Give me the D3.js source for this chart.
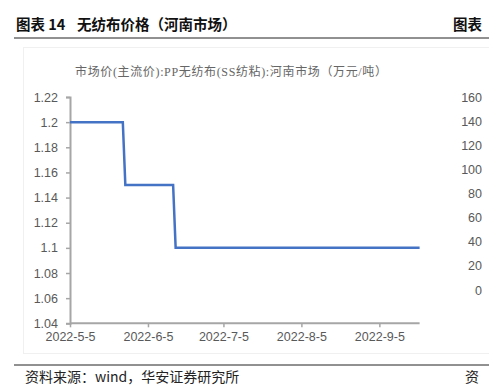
<!DOCTYPE html>
<html><head><meta charset="utf-8">
<script src="https://cdn.jsdelivr.net/npm/d3@7"></script>
<style>
html,body{margin:0;padding:0;background:#fff;overflow:hidden;}
svg{display:block;}
</style></head>
<body>
<svg id="chart" width="489" height="387"></svg>
<script>
// ---- data ----
const dates = ["2022-05-05","2022-05-26","2022-05-27","2022-06-15","2022-06-16","2022-09-21"];
const prices = [1.2, 1.2, 1.15, 1.15, 1.1, 1.1];
const leftTicks = [1.04,1.06,1.08,1.1,1.12,1.14,1.16,1.18,1.2,1.22];
const rightTicks = [0,20,40,60,80,100,120,140,160];
const xTickDates = ["2022-05-05","2022-06-05","2022-07-05","2022-08-05","2022-09-05"];
const titleText = "无纺布价格（河南市场）";
const subtitle = "市场价(主流价):PP无纺布(SS纺粘):河南市场（万元/吨）";
const source = "资料来源：wind，华安证券研究所";

const parse = d3.timeParse("%Y-%m-%d");
const fmt = d => `${d.getFullYear()}-${d.getMonth()+1}-${d.getDate()}`;
const svg = d3.select("#chart");
const cjk = "'Noto Sans CJK SC', sans-serif";

// header
svg.append("text").attr("x",16).attr("y",30).attr("font-family",cjk).attr("font-weight","bold")
  .attr("font-size",14.5).attr("fill","#111").text("图表 14");
svg.append("text").attr("x",77).attr("y",30).attr("font-family",cjk).attr("font-weight","bold")
  .attr("font-size",14.5).attr("fill","#111").text(titleText);
svg.append("text").attr("x",453).attr("y",30).attr("font-family",cjk).attr("font-weight","bold")
  .attr("font-size",14.5).attr("fill","#111").text("图表");
svg.append("line").attr("x1",14).attr("x2",489).attr("y1",38).attr("y2",38).attr("stroke","#222").attr("stroke-width",1);

// chart area faint border
svg.append("rect").attr("x",23.5).attr("y",47.5).attr("width",480).attr("height",306)
  .attr("fill","none").attr("stroke","#f0f0f0");

// subtitle
svg.append("text").attr("x",75).attr("y",76)
  .attr("font-family","'Liberation Serif', 'Noto Sans CJK SC', serif").attr("font-size",12)
  .attr("textLength",312).attr("lengthAdjust","spacing")
  .attr("fill","#666").text(subtitle);

// scales
const x = d3.scaleTime().domain([parse("2022-05-05"), parse("2022-09-21")]).range([70, 419.6]);
const yL = d3.scaleLinear().domain([1.04,1.22]).range([323.3, 97]);
const yR = d3.scaleLinear().domain([0,160]).range([290, 97]);

const axisColor = "#a6a6a6", labelColor = "#595959", numFont = "'Liberation Sans', Arial, sans-serif";

// left axis
const gL = svg.append("g").attr("transform","translate(70,0)")
  .call(d3.axisLeft(yL).tickValues(leftTicks).tickSize(4).tickPadding(8).tickFormat(d => d3.format("")(+d.toFixed(2))));
// right axis (labels only)
const gR = svg.append("g").attr("transform","translate(482,0)")
  .call(d3.axisLeft(yR).tickValues(rightTicks).tickSize(0).tickPadding(0));
gR.select(".domain").remove();
// x axis
const gX = svg.append("g").attr("transform","translate(0,323.3)")
  .call(d3.axisBottom(x).tickValues(xTickDates.map(parse)).tickSize(4).tickPadding(5).tickFormat(fmt));

[gL,gR,gX].forEach(g=>{
  g.selectAll(".domain").attr("stroke",axisColor).attr("stroke-width",2);
  g.selectAll(".tick line").attr("stroke",axisColor).attr("stroke-width",1.5);
  g.selectAll("text").attr("fill",labelColor).attr("font-family",numFont).attr("font-size",12.5);
});
gX.select(".domain").attr("d","M70,0H419.6");

// line
const data = dates.map((d,i)=>({date:parse(d), v:prices[i]}));
svg.append("path").datum(data)
  .attr("fill","none").attr("stroke","#4472C4").attr("stroke-width",2.5)
  .attr("d", d3.line().x(d=>x(d.date)).y(d=>yL(d.v)));

// footer
svg.append("line").attr("x1",14).attr("x2",489).attr("y1",365).attr("y2",365).attr("stroke","#222").attr("stroke-width",1);
svg.append("text").attr("x",25).attr("y",382).attr("font-family",cjk).attr("font-size",14)
  .attr("fill","#222").text(source);
svg.append("text").attr("x",465).attr("y",382).attr("font-family",cjk).attr("font-size",14)
  .attr("fill","#222").text("资");
</script>
</body></html>
